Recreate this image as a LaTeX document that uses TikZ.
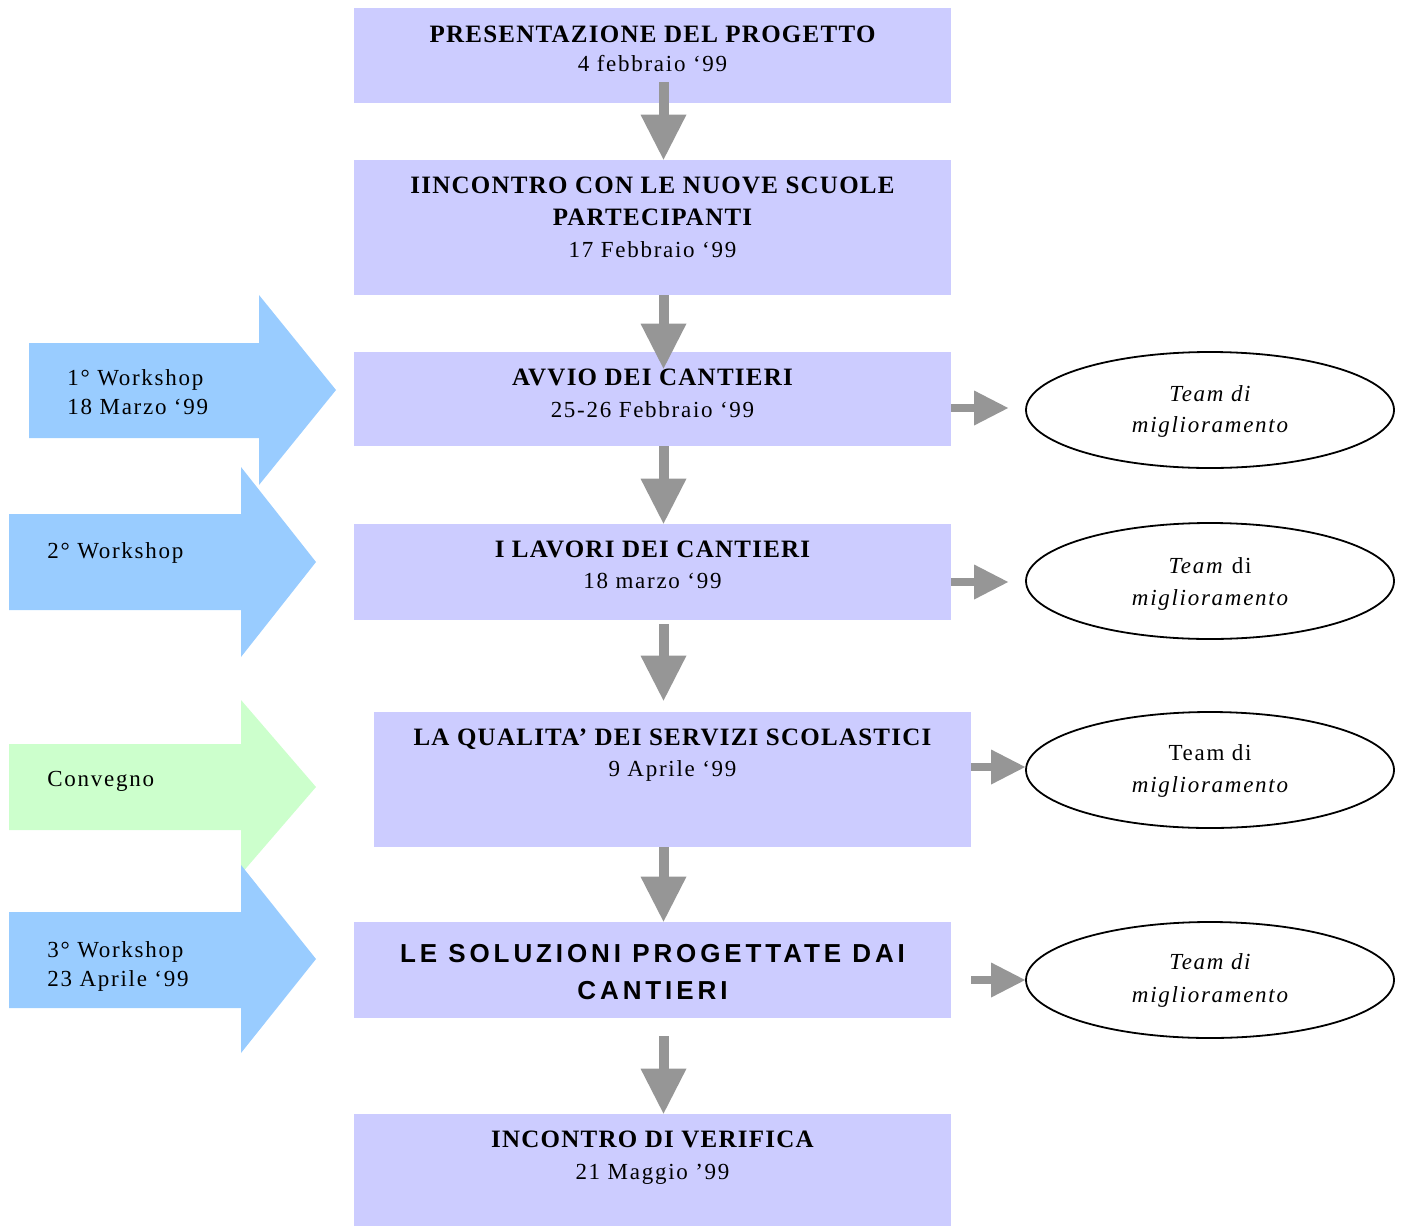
\documentclass[tikz,border=0pt]{standalone}
\usepackage{fontspec}
\setmainfont{Liberation Serif}
\newfontfamily\ttlfont[LetterSpace=5]{Liberation Serif}
\newfontfamily\txtfont[LetterSpace=7.5]{Liberation Serif}
\newfontfamily\sanfont[LetterSpace=15]{Liberation Sans}
\usetikzlibrary{arrows.meta,shapes.geometric,calc}
\definecolor{lav}{HTML}{CCCCFF}
\definecolor{lblue}{HTML}{99CCFF}
\definecolor{lgreen}{HTML}{CCFFCC}
\definecolor{agray}{HTML}{969696}
\begin{document}
\begin{tikzpicture}[x=0.5pt,y=-0.5pt,
  box/.style={fill=lav, draw=none, inner sep=0pt, minimum width=298.5pt},
  ttl/.style={font=\ttlfont\bfseries\fontsize{12.5}{15}\selectfont, anchor=base, inner sep=0pt},
  dat/.style={font=\txtfont\fontsize{11.5}{14}\selectfont, anchor=base, inner sep=0pt},
  lft/.style={font=\txtfont\fontsize{11.5}{14}\selectfont, anchor=base west, inner sep=0pt},
  sns/.style={font=\sanfont\bfseries\fontsize{13}{15}\selectfont, anchor=base, inner sep=0pt},
  team/.style={ellipse, draw=black, line width=0.9pt, minimum width=184pt, minimum height=58pt, inner sep=0pt},
  down/.style={draw=agray, line width=5pt, -{Triangle[length=22.5pt,width=23pt,line width=0pt]}},
  side/.style={draw=agray, line width=4pt, -{Triangle[length=17pt,width=17.5pt,line width=0pt]}}
]
\useasboundingbox (0,0) rectangle (1402,1226);

% left block arrows
\fill[lblue] (29,343) -- (259,343) -- (259,295) -- (336,390) -- (259,485) -- (259,438) -- (29,438) -- cycle;
\fill[lblue] (9,514) -- (241,514) -- (241,467) -- (316,562) -- (241,657) -- (241,610) -- (9,610) -- cycle;
\fill[lgreen] (9,744) -- (241,744) -- (241,700) -- (316,787) -- (241,874) -- (241,830) -- (9,830) -- cycle;
\fill[lblue] (9,912) -- (241,912) -- (241,865) -- (316,959) -- (241,1053) -- (241,1008) -- (9,1008) -- cycle;
\node[lft] (w1a) at (67,385) {1° Workshop};
\node[lft] (w1b) at (67,414) {18 Marzo ‘99};
\node[lft] (w2) at (47,558) {2° Workshop};
\node[lft] (cv) at (47,786) {Convegno};
\node[lft] (w3a) at (47,957) {3° Workshop};
\node[lft] (w3b) at (47,986) {23 Aprile ‘99};

% boxes
\node[box, minimum height=47.5pt] (b1) at (652.5,55.5) {};
\node[box, minimum height=67.5pt] (b2) at (652.5,227.5) {};
\node[box, minimum height=47pt] (b3) at (652.5,399) {};
\node[box, minimum height=48pt] (b4) at (652.5,572) {};
\node[box, minimum height=67.5pt] (b5) at (672.5,779.5) {};
\node[box, minimum height=48pt] (b6) at (652.5,970) {};
\node[box, minimum height=56pt] (b7) at (652.5,1170) {};

\node[ttl] (t1a) at (652.5,42) {PRESENTAZIONE DEL PROGETTO};
\node[dat] (t1b) at (652.5,71) {4 febbraio ‘99};
\node[ttl] (t2a) at (652.5,193) {IINCONTRO CON LE NUOVE SCUOLE};
\node[ttl] (t2b) at (652.5,225) {PARTECIPANTI};
\node[dat] (t2c) at (652.5,257) {17 Febbraio ‘99};
\node[ttl] (t3a) at (652.5,385) {AVVIO DEI CANTIERI};
\node[dat] (t3b) at (652.5,417) {25-26 Febbraio ‘99};
\node[ttl] (t4a) at (652.5,557) {I LAVORI DEI CANTIERI};
\node[dat] (t4b) at (652.5,588) {18 marzo ‘99};
\node[ttl] (t5a) at (672.5,745) {LA QUALITA’ DEI SERVIZI SCOLASTICI};
\node[dat] (t5b) at (672.5,776) {9 Aprile ‘99};
\node[sns] (t6a) at (652.5,962) {LE SOLUZIONI PROGETTATE DAI};
\node[sns] (t6b) at (652.5,999) {CANTIERI};
\node[ttl] (t7a) at (652.5,1147) {INCONTRO DI VERIFICA};
\node[dat] (t7b) at (652.5,1179) {21 Maggio ’99};

% ellipses
\node[team] (e1) at (1210,410) {};
\node[team] (e2) at (1210,581) {};
\node[team] (e3) at (1210,770) {};
\node[team] (e4) at (1210,980) {};
\node[dat] (e1a) at (1210,401) {\itshape Team di};
\node[dat] (e1b) at (1210,432) {\itshape miglioramento};
\node[dat] (e2a) at (1210,573) {\textit{Team} di};
\node[dat] (e2b) at (1210,605) {\itshape miglioramento};
\node[dat] (e3a) at (1210,760) {Team di};
\node[dat] (e3b) at (1210,792) {\itshape miglioramento};
\node[dat] (e4a) at (1210,969) {\itshape Team di};
\node[dat] (e4b) at (1210,1002) {\itshape miglioramento};

% down connectors
\draw[down] ($(b1.south)+(11,-21)$) -- ($(b2.north)+(11,0)$);
\draw[down] ($(b2.south)+(11,0)$) -- ($(b3.north)+(11,17)$);
\draw[down] ($(b3.south)+(11,0)$) -- ($(b4.north)+(11,0)$);
\draw[down] ($(b4.south)+(11,4)$) -- ($(b5.north)+(-9,-11)$);
\draw[down] ($(b5.south)+(-9,0)$) -- ($(b6.north)+(11,0)$);
\draw[down] ($(b6.south)+(11,18)$) -- ($(b7.north)+(11,0)$);

% side connectors
\coordinate (r1s) at ($(b3.east)+(0,9)$);
\coordinate (r1e) at ($(e1.west)+(-17,0)$);
\draw[side] (r1s) -- (r1s -| r1e);
\coordinate (r2s) at ($(b4.east)+(0,10)$);
\coordinate (r2e) at ($(e2.west)+(-17,0)$);
\draw[side] (r2s) -- (r2s -| r2e);
\coordinate (r3s) at ($(b5.east)+(0,-12.5)$);
\draw[side] (r3s) -- (r3s -| e3.west);
\coordinate (r4s) at ($(b6.east)+(20,10)$);
\draw[side] (r4s) -- (r4s -| e4.west);
\end{tikzpicture}
\end{document}
